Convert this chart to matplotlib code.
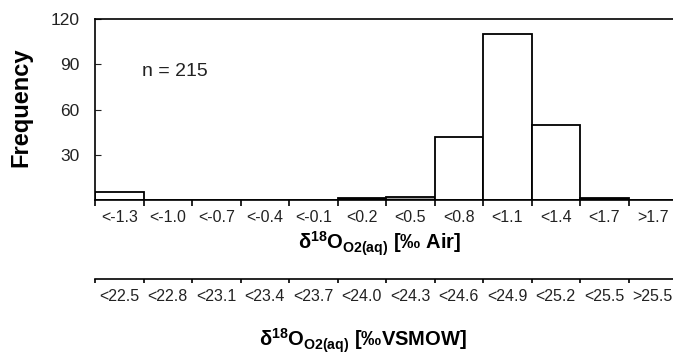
import matplotlib
matplotlib.use("Agg")
import matplotlib.pyplot as plt
import numpy as np

plt.rcParams["font.family"] = ["Liberation Sans", "DejaVu Sans"]
plt.rcParams["mathtext.fontset"] = "custom"
plt.rcParams["mathtext.rm"] = "Liberation Sans:bold"
plt.rcParams["mathtext.it"] = "Liberation Sans:bold"
plt.rcParams["mathtext.bf"] = "Liberation Sans:bold"
plt.rcParams["mathtext.default"] = "rm"

# histogram data
air_labels = ["<-1.3", "<-1.0", "<-0.7", "<-0.4", "<-0.1", "<0.2",
              "<0.5", "<0.8", "<1.1", "<1.4", "<1.7", ">1.7"]
vsmow_labels = ["<22.5", "<22.8", "<23.1", "<23.4", "<23.7", "<24.0",
                "<24.3", "<24.6", "<24.9", "<25.2", "<25.5", ">25.5"]
counts = [5, 0, 0, 0, 0, 1, 2, 42, 110, 50, 1, 0]
bar_colors = ["white", "white", "white", "white", "white", "black",
              "#a0a0a0", "white", "white", "white", "black", "white"]

W, H = 673, 354
fig = plt.figure(figsize=(W / 100, H / 100), dpi=100)

left = 95 / W
width = 582 / W
ax = fig.add_axes([left, (H - 200) / H, width, 181 / H])

nb = len(counts)
centers = np.arange(nb) + 0.5
ax.bar(centers, counts, width=1.0, color=bar_colors, edgecolor="black", linewidth=1.3)
ax.set_xlim(0, nb)
ax.set_ylim(0, 120)

ax.spines["right"].set_visible(False)
for s in ["left", "top", "bottom"]:
    ax.spines[s].set_linewidth(1.2)

ax.set_yticks([30, 60, 90, 120])
ax.tick_params(axis="y", direction="in", length=4, pad=11, labelsize=12.5, colors="#222222")

ax.set_xticks(np.arange(nb + 1))
ax.set_xticklabels([])
ax.tick_params(axis="x", which="major", direction="out", length=4, width=1.2)
ax.set_xticks(centers, minor=True)
ax.set_xticklabels(air_labels, minor=True)
ax.tick_params(axis="x", which="minor", length=0, pad=7, labelsize=11.5, colors="#222222")

fig.text(142 / W, 1 - 71.5 / H, "n = 215", fontsize=14, color="#222222",
         ha="left", va="center")

fig.text(21 / W, 1 - 107.5 / H, "Frequency", rotation=90, fontsize=17,
         fontweight="bold", ha="center", va="center")

# second scale (VSMOW)
ax2 = fig.add_axes([left, (H - 279) / H, width, 1e-4])
ax2.set_xlim(0, nb)
ax2.set_yticks([])
for s in ["left", "right", "top"]:
    ax2.spines[s].set_visible(False)
ax2.spines["bottom"].set_linewidth(1.2)
ax2.patch.set_visible(False)
ax2.set_xticks(np.arange(nb + 1))
ax2.set_xticklabels([])
ax2.tick_params(axis="x", which="major", direction="out", length=3, width=1.2)
ax2.set_xticks(centers, minor=True)
ax2.set_xticklabels(vsmow_labels, minor=True)
ax2.tick_params(axis="x", which="minor", length=0, pad=7, labelsize=11.5, colors="#222222")

fig.text(380 / W, 1 - 244 / H, r"δ$^{18}$O$_{O2(aq)}$ [‰ Air]", fontsize=14.5,
         fontweight="bold", ha="center", va="center")
fig.text(363 / W, 1 - 341 / H, r"δ$^{18}$O$_{O2(aq)}$ [‰VSMOW]", fontsize=14.5,
         fontweight="bold", ha="center", va="center")

fig.savefig("out.png", dpi=100)
